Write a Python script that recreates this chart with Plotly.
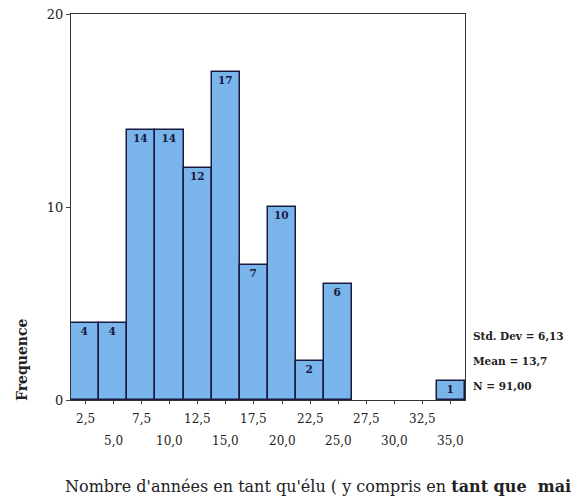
import plotly.graph_objects as go

bin_centers = [2.5, 5.0, 7.5, 10.0, 12.5, 15.0, 17.5, 20.0, 22.5, 25.0, 27.5, 30.0, 32.5, 35.0]
counts = [4, 4, 14, 14, 12, 17, 7, 10, 2, 6, 0, 0, 0, 1]
tick_vals = bin_centers
tick_labels = ["2,5", "5,0", "7,5", "10,0", "12,5", "15,0", "17,5", "20,0", "22,5", "25,0", "27,5", "30,0", "32,5", "35,0"]
y_ticks = [0, 10, 20]
stats = ["Std. Dev = 6,13", "Mean = 13,7", "N = 91,00"]
x_title = "Nombre d'années en tant qu'élu ( y compris en <b>tant que  maire</b> )"
y_title = "Frequence"

serif = "DejaVu Serif, Liberation Serif, serif"
ink = "#222"
navy = "#1a1a40"

bar_text = [str(c) if c > 0 else "" for c in counts]
outline_w = [1.5 if c > 0 else 0 for c in counts]

fig = go.Figure()
fig.add_trace(go.Bar(
    x=bin_centers, y=counts, width=2.5,
    marker=dict(color="#79b4ea", line=dict(color=navy, width=outline_w)),
    text=bar_text, textposition="inside", insidetextanchor="end",
    textangle=0, constraintext="none",
    texttemplate="<b>%{text}</b>",
    textfont=dict(family=serif, size=10.5, color=navy),
))

# page body has an 8px margin: figure is sized to the visible area
fig.update_layout(
    width=571, height=492,
    margin=dict(l=63, r=114, t=6, b=100),
    paper_bgcolor="white", plot_bgcolor="white",
    showlegend=False, bargap=0,
    font=dict(family=serif, color=ink),
    xaxis=dict(
        range=[1.25, 36.25], tickvals=tick_vals, showticklabels=False,
        ticks="outside", ticklen=3, tickcolor="#444",
        showgrid=False, zeroline=False, automargin=False,
        showline=True, linecolor="#333", linewidth=1.2, mirror=True,
    ),
    yaxis=dict(
        range=[0, 20], tickvals=y_ticks, ticklabeloverflow="allow",
        ticks="outside", ticklen=4, tickcolor="#444",
        showgrid=False, zeroline=False, automargin=False,
        showline=True, linecolor="#333", linewidth=1.2, mirror=True,
        tickfont=dict(family=serif, size=13, color=ink),
    ),
)

# staggered x tick labels
for i, (v, t) in enumerate(zip(tick_vals, tick_labels)):
    fig.add_annotation(text=t, xref="x", yref="y", x=v, y=0,
                       xanchor="center", yanchor="middle",
                       yshift=-19 if i % 2 == 0 else -41, showarrow=False,
                       font=dict(family=serif, size=12, color=ink))

# y title
fig.add_annotation(text="<b>" + y_title + "</b>", xref="paper", yref="paper",
                   x=-71 / 394, y=(400 - 360) / 386, xanchor="left", yanchor="middle",
                   textangle=-90, showarrow=False, xshift=12,
                   font=dict(family=serif, size=14, color=ink))

# stats
for s, py in zip(stats, [336, 361, 386]):
    fig.add_annotation(text="<b>" + s + "</b>", xref="paper", yref="paper",
                       x=1.0, y=(400 - py) / 386, xanchor="left", yanchor="middle",
                       xshift=6, showarrow=False,
                       font=dict(family=serif, size=10.5, color=ink))

# x title (cut at the right edge, as in the reference)
fig.add_annotation(text=x_title, xref="paper", yref="paper",
                   x=(63 - 71) / 394, y=(400 - 487) / 386, xanchor="left", yanchor="middle",
                   showarrow=False,
                   font=dict(family=serif, size=16, color=ink))

fig.write_html("out.html")
